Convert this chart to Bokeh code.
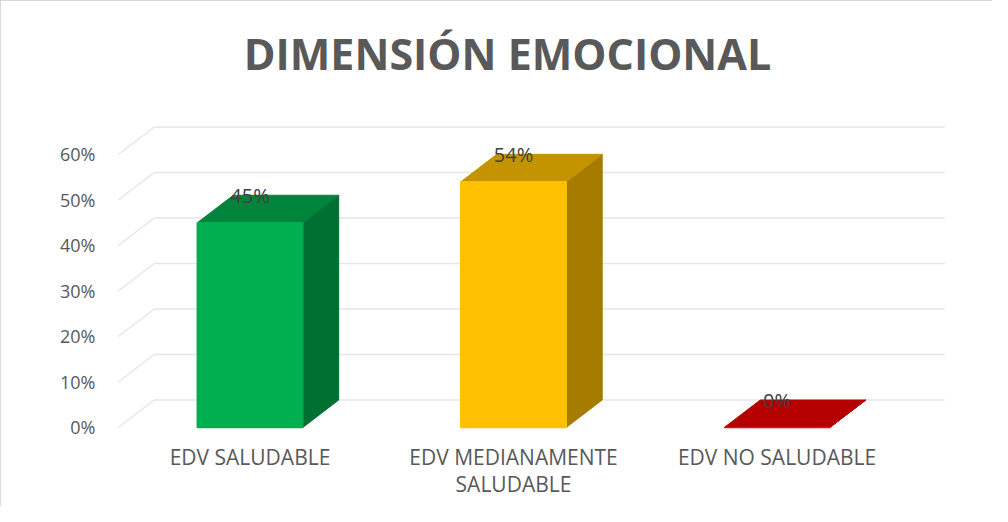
from bokeh.plotting import figure
from bokeh.models import Range1d, FixedTicker, Label
from bokeh.embed import file_html
from bokeh.resources import INLINE
from bokeh.core.properties import value

# ---- data ----
categories = ["EDV SALUDABLE", "EDV MEDIANAMENTE\nSALUDABLE", "EDV NO SALUDABLE"]
values = [0.45, 0.54, 0.0]
value_labels = ["45%", "54%", "0%"]
y_ticks = [0.0, 0.1, 0.2, 0.3, 0.4, 0.5, 0.6]
y_tick_labels = ["0%", "10%", "20%", "30%", "40%", "50%", "60%"]
title_text = "DIMENSIÓN EMOCIONAL"

# ---- styles ----
front_colors = ["#00b050", "#ffc000", "#ff0000"]
top_colors = ["#00843c", "#c49400", "#b40000"]
side_colors = ["#006f32", "#a67c00", "#a00000"]
BAR_W = 0.4      # bar width in category units
DX = 0.1366      # 3D depth offset (x, category units)
DY = 0.0604      # 3D depth offset (y, value units)
FONT = "Open Sans"

W, H = 992, 506
p = figure(width=W, height=H, output_backend="svg", toolbar_location=None,
           x_range=Range1d(-0.5636, 2.8216), y_range=Range1d(-0.02418, 0.93626),
           min_border_left=100, min_border_right=0, min_border_top=0,
           min_border_bottom=69)
p.styles = {"border-top": "1px solid #d9d9d9", "border-left": "1px solid #d9d9d9"}
p.outline_line_color = None
p.xgrid.visible = False
p.ygrid.visible = False
p.background_fill_color = "white"
p.border_fill_color = "white"

n_cat = len(categories)
xpos = list(range(n_cat))

# ---- 3D gridlines (floor-to-back-wall diagonal + back wall line) ----
nt = len(y_ticks)
gx0 = -0.5
gx1 = n_cat - 0.5
back_y = [t + DY for t in y_ticks]
p.segment(x0=[gx0] * nt, y0=y_ticks, x1=[gx0 + DX] * nt, y1=back_y,
          line_color="#e6e6e6", line_width=1.5)
p.segment(x0=[gx0 + DX] * nt, y0=back_y, x1=[gx1 + DX] * nt, y1=back_y,
          line_color="#e6e6e6", line_width=1.5)

# ---- 3D bars ----
side_xs, side_ys, top_xs, top_ys = [], [], [], []
for x, v in zip(xpos, values):
    l, r = x - BAR_W / 2, x + BAR_W / 2
    side_xs.append([r, r + DX, r + DX, r])
    side_ys.append([0, DY, v + DY, v])
    top_xs.append([l, r, r + DX, l + DX])
    top_ys.append([v, v, v + DY, v + DY])

p.patches(xs=side_xs, ys=side_ys, fill_color=side_colors, line_color=side_colors,
          line_width=1)
p.patches(xs=top_xs, ys=top_ys, fill_color=top_colors, line_color=top_colors,
          line_width=1)
p.quad(left=[x - BAR_W / 2 for x in xpos], right=[x + BAR_W / 2 for x in xpos],
       bottom=[0] * n_cat, top=values, fill_color=front_colors,
       line_color=front_colors, line_width=1.5)

# ---- value labels ----
p.text(x=xpos, y=[v + DY for v in values], text=value_labels,
       text_align="center", text_baseline="middle",
       text_font=value(FONT), text_font_size="20px", text_color="#404040")

# ---- title ----
title = Label(x=(n_cat - 1) / 2, y=0.822, x_offset=-6, text=title_text,
              text_align="center", text_baseline="middle",
              text_font=FONT, text_font_size="43px", text_font_style="bold",
              text_color="#595959")
p.add_layout(title)

# ---- axes ----
p.yaxis.ticker = FixedTicker(ticks=y_ticks)
p.yaxis.major_label_overrides = {t: s for t, s in zip(y_ticks, y_tick_labels)}
p.xaxis.ticker = FixedTicker(ticks=xpos)
p.xaxis.major_label_overrides = {x: c for x, c in zip(xpos, categories)}

for ax in (p.xaxis, p.yaxis):
    ax.axis_line_color = None
    ax.major_tick_line_color = None
    ax.minor_tick_line_color = None
    ax.major_tick_in = 0
    ax.major_tick_out = 0
    ax.major_label_text_font = FONT
    ax.major_label_text_color = "#595959"

p.yaxis.major_label_text_font_size = "18px"
p.yaxis.major_label_standoff = 6
p.xaxis.major_label_text_font_size = "21px"
p.xaxis.major_label_text_line_height = 0.97
p.xaxis.major_label_standoff = 4

open("out.html", "w").write(file_html(p, INLINE))
